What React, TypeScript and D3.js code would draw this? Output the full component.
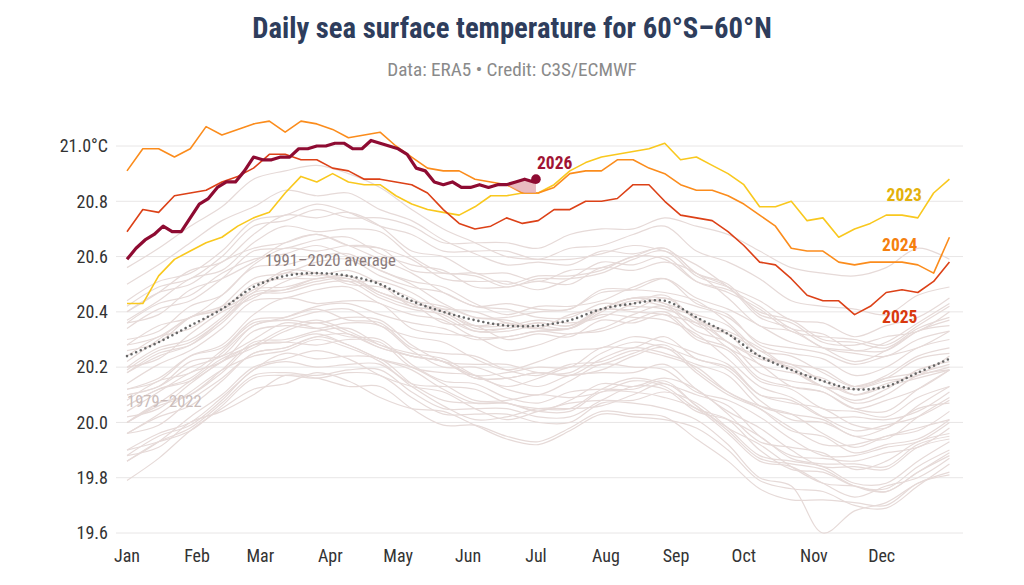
import React from 'react';
import * as d3 from 'd3';

const WIDTH = 1024;
const HEIGHT = 585;
const FONT = "'Roboto Condensed', Roboto, sans-serif";

// sample days (day of year)
const weekDays = d3.range(1, 366, 7);
const bgDays = d3.range(1, 366, 14);
const days2026 = [...d3.range(1, 182, 4), 182];

const months = ['Jan', 'Feb', 'Mar', 'Apr', 'May', 'Jun', 'Jul', 'Aug', 'Sep', 'Oct', 'Nov', 'Dec'];
const monthStarts = [1, 32, 60, 91, 121, 152, 182, 213, 244, 274, 305, 335];
const yTicks = [19.6, 19.8, 20.0, 20.2, 20.4, 20.6, 20.8, 21.0];

// 1991–2020 daily climatology, every 14 days
const avg9120 = [20.24, 20.29, 20.35, 20.41, 20.49, 20.53, 20.54, 20.53, 20.50, 20.44, 20.40, 20.37, 20.35, 20.35, 20.37, 20.41, 20.43, 20.44, 20.38, 20.32, 20.24, 20.19, 20.15, 20.12, 20.13, 20.18, 20.23];

// past years, every 14 days
const y1979 = [19.86, 19.93, 20.02, 20.10, 20.20, 20.23, 20.26, 20.23, 20.17, 20.13, 20.11, 20.05, 20.01, 20.04, 20.07, 20.08, 20.08, 20.11, 20.07, 19.98, 19.88, 19.86, 19.84, 19.78, 19.78, 19.86, 19.93];
const y1980 = [19.96, 19.99, 20.08, 20.16, 20.25, 20.27, 20.31, 20.28, 20.23, 20.20, 20.14, 20.08, 20.08, 20.10, 20.09, 20.11, 20.15, 20.13, 20.05, 20.01, 19.90, 19.83, 19.82, 19.77, 19.76, 19.84, 19.90];
const y1981 = [19.88, 19.95, 19.99, 20.08, 20.19, 20.22, 20.20, 20.21, 20.21, 20.13, 20.06, 20.01, 20.02, 20.05, 20.05, 20.06, 20.10, 20.14, 20.06, 19.97, 19.87, 19.85, 19.83, 19.77, 19.75, 19.82, 19.89];
const y1982 = [19.90, 19.93, 19.97, 20.06, 20.16, 20.17, 20.16, 20.18, 20.17, 20.09, 20.03, 20.03, 20.03, 20.00, 20.00, 20.07, 20.07, 20.05, 20.01, 19.92, 19.80, 19.77, 19.60, 19.68, 19.71, 19.78, 19.82];
const y1983 = [20.06, 20.12, 20.15, 20.22, 20.28, 20.29, 20.32, 20.28, 20.23, 20.19, 20.12, 20.07, 20.07, 20.04, 20.04, 20.11, 20.11, 20.09, 20.05, 19.96, 19.86, 19.84, 19.78, 19.73, 19.77, 19.80, 19.87];
const y1984 = [19.88, 19.91, 20.00, 20.04, 20.10, 20.17, 20.16, 20.13, 20.13, 20.05, 19.99, 19.99, 19.95, 19.93, 19.98, 20.04, 20.03, 20.02, 19.94, 19.86, 19.76, 19.72, 19.72, 19.71, 19.70, 19.78, 19.81];
const y1985 = [19.79, 19.87, 19.97, 20.05, 20.12, 20.14, 20.18, 20.15, 20.09, 20.05, 20.04, 19.99, 19.94, 19.92, 19.97, 20.03, 20.02, 20.01, 19.98, 19.90, 19.79, 19.76, 19.75, 19.70, 19.69, 19.77, 19.85];
const y1986 = [19.86, 19.93, 19.98, 20.07, 20.17, 20.18, 20.17, 20.19, 20.19, 20.11, 20.05, 20.05, 20.05, 20.02, 20.02, 20.08, 20.13, 20.12, 20.04, 20.01, 19.95, 19.87, 19.85, 19.85, 19.84, 19.92, 19.95];
const y1987 = [19.96, 20.02, 20.06, 20.15, 20.25, 20.27, 20.31, 20.32, 20.27, 20.24, 20.22, 20.17, 20.18, 20.20, 20.20, 20.27, 20.27, 20.31, 20.23, 20.20, 20.10, 20.08, 20.02, 20.02, 20.01, 20.04, 20.11];
const y1988 = [20.10, 20.13, 20.22, 20.24, 20.30, 20.36, 20.34, 20.31, 20.30, 20.21, 20.15, 20.14, 20.09, 20.07, 20.11, 20.12, 20.12, 20.15, 20.06, 19.98, 19.92, 19.84, 19.78, 19.77, 19.75, 19.82, 19.88];
const y1989 = [19.90, 19.96, 20.00, 20.09, 20.19, 20.25, 20.23, 20.24, 20.23, 20.14, 20.08, 20.07, 20.07, 20.04, 20.08, 20.14, 20.13, 20.16, 20.12, 20.03, 19.93, 19.91, 19.89, 19.83, 19.86, 19.93, 19.96];
const y1990 = [20.00, 20.07, 20.15, 20.23, 20.28, 20.34, 20.37, 20.33, 20.28, 20.25, 20.23, 20.17, 20.13, 20.16, 20.20, 20.21, 20.25, 20.28, 20.19, 20.11, 20.06, 20.03, 19.96, 19.91, 19.95, 19.98, 20.01];
const y1991 = [20.04, 20.11, 20.18, 20.22, 20.33, 20.35, 20.34, 20.36, 20.35, 20.26, 20.20, 20.20, 20.16, 20.13, 20.17, 20.18, 20.18, 20.21, 20.12, 20.04, 19.98, 19.90, 19.84, 19.84, 19.83, 19.91, 19.94];
const y1992 = [19.96, 20.03, 20.11, 20.19, 20.24, 20.26, 20.30, 20.27, 20.22, 20.14, 20.13, 20.12, 20.07, 20.05, 20.05, 20.12, 20.16, 20.14, 20.10, 20.06, 19.95, 19.88, 19.87, 19.86, 19.89, 19.91, 19.98];
const y1993 = [20.00, 20.07, 20.10, 20.18, 20.28, 20.29, 20.28, 20.30, 20.29, 20.20, 20.18, 20.17, 20.12, 20.10, 20.15, 20.21, 20.20, 20.19, 20.11, 20.08, 20.02, 19.94, 19.88, 19.88, 19.91, 19.93, 20.00];
const y1994 = [20.00, 20.06, 20.10, 20.19, 20.29, 20.30, 20.33, 20.34, 20.28, 20.24, 20.22, 20.16, 20.16, 20.18, 20.17, 20.23, 20.27, 20.25, 20.21, 20.17, 20.06, 20.03, 20.01, 19.95, 19.98, 20.05, 20.07];
const y1995 = [20.12, 20.16, 20.24, 20.27, 20.37, 20.38, 20.41, 20.37, 20.36, 20.27, 20.25, 20.24, 20.19, 20.17, 20.21, 20.22, 20.26, 20.24, 20.20, 20.11, 20.05, 19.97, 19.95, 19.89, 19.92, 19.94, 20.01];
const y1996 = [20.02, 20.05, 20.14, 20.22, 20.27, 20.33, 20.36, 20.32, 20.27, 20.24, 20.22, 20.16, 20.16, 20.18, 20.17, 20.19, 20.24, 20.27, 20.18, 20.10, 20.05, 19.98, 19.92, 19.92, 19.95, 19.97, 20.04];
const y1997 = [20.06, 20.12, 20.16, 20.25, 20.35, 20.38, 20.42, 20.43, 20.39, 20.36, 20.34, 20.30, 20.31, 20.33, 20.34, 20.41, 20.45, 20.45, 20.42, 20.38, 20.29, 20.27, 20.25, 20.21, 20.24, 20.27, 20.33];
const y1998 = [20.36, 20.43, 20.46, 20.54, 20.59, 20.61, 20.64, 20.60, 20.55, 20.50, 20.43, 20.38, 20.37, 20.34, 20.34, 20.39, 20.38, 20.37, 20.32, 20.23, 20.13, 20.09, 20.02, 19.97, 19.99, 20.02, 20.08];
const y1999 = [20.10, 20.13, 20.20, 20.24, 20.35, 20.37, 20.36, 20.38, 20.37, 20.28, 20.22, 20.21, 20.21, 20.18, 20.18, 20.25, 20.29, 20.27, 20.23, 20.19, 20.08, 20.01, 20.00, 19.95, 19.94, 20.02, 20.09];
const y2000 = [20.08, 20.15, 20.18, 20.26, 20.36, 20.37, 20.40, 20.41, 20.35, 20.31, 20.29, 20.23, 20.19, 20.22, 20.26, 20.27, 20.31, 20.29, 20.25, 20.21, 20.10, 20.07, 20.05, 19.99, 19.98, 20.06, 20.13];
const y2001 = [20.14, 20.21, 20.26, 20.34, 20.44, 20.45, 20.48, 20.49, 20.43, 20.39, 20.37, 20.31, 20.31, 20.33, 20.32, 20.34, 20.39, 20.42, 20.33, 20.29, 20.18, 20.15, 20.13, 20.07, 20.10, 20.17, 20.19];
const y2002 = [20.20, 20.27, 20.30, 20.38, 20.48, 20.49, 20.52, 20.53, 20.47, 20.43, 20.41, 20.35, 20.35, 20.37, 20.36, 20.38, 20.43, 20.46, 20.37, 20.33, 20.27, 20.19, 20.13, 20.13, 20.16, 20.18, 20.21];
const y2003 = [20.26, 20.29, 20.38, 20.42, 20.48, 20.55, 20.54, 20.51, 20.51, 20.47, 20.40, 20.35, 20.36, 20.34, 20.34, 20.41, 20.45, 20.43, 20.35, 20.32, 20.26, 20.19, 20.13, 20.08, 20.12, 20.19, 20.22];
const y2004 = [20.20, 20.23, 20.32, 20.40, 20.45, 20.51, 20.54, 20.50, 20.49, 20.45, 20.38, 20.33, 20.34, 20.36, 20.35, 20.41, 20.40, 20.39, 20.36, 20.32, 20.21, 20.18, 20.16, 20.10, 20.13, 20.16, 20.19];
const y2005 = [20.22, 20.30, 20.38, 20.41, 20.47, 20.54, 20.53, 20.55, 20.50, 20.42, 20.41, 20.40, 20.36, 20.34, 20.39, 20.41, 20.41, 20.45, 20.37, 20.29, 20.24, 20.21, 20.15, 20.10, 20.14, 20.17, 20.20];
const y2006 = [20.19, 20.26, 20.29, 20.37, 20.47, 20.48, 20.51, 20.52, 20.46, 20.42, 20.40, 20.34, 20.34, 20.36, 20.35, 20.41, 20.45, 20.43, 20.39, 20.35, 20.24, 20.21, 20.19, 20.13, 20.16, 20.23, 20.25];
const y2007 = [20.28, 20.31, 20.38, 20.41, 20.50, 20.52, 20.52, 20.53, 20.47, 20.43, 20.36, 20.35, 20.30, 20.32, 20.31, 20.37, 20.36, 20.39, 20.30, 20.26, 20.15, 20.12, 20.05, 20.04, 20.02, 20.09, 20.13];
const y2008 = [20.12, 20.15, 20.24, 20.28, 20.39, 20.45, 20.43, 20.44, 20.43, 20.34, 20.32, 20.31, 20.26, 20.28, 20.32, 20.33, 20.37, 20.40, 20.31, 20.27, 20.16, 20.13, 20.11, 20.05, 20.04, 20.12, 20.19];
const y2009 = [20.18, 20.24, 20.28, 20.37, 20.46, 20.48, 20.52, 20.52, 20.47, 20.44, 20.42, 20.38, 20.38, 20.40, 20.41, 20.47, 20.48, 20.52, 20.45, 20.41, 20.35, 20.29, 20.27, 20.26, 20.26, 20.33, 20.37];
const y2010 = [20.40, 20.47, 20.50, 20.58, 20.63, 20.65, 20.68, 20.64, 20.59, 20.54, 20.47, 20.42, 20.41, 20.38, 20.38, 20.43, 20.42, 20.41, 20.36, 20.27, 20.21, 20.13, 20.11, 20.05, 20.08, 20.12, 20.19];
const y2011 = [20.18, 20.25, 20.28, 20.36, 20.46, 20.47, 20.50, 20.51, 20.45, 20.41, 20.39, 20.33, 20.33, 20.35, 20.34, 20.40, 20.44, 20.42, 20.38, 20.29, 20.23, 20.20, 20.13, 20.12, 20.15, 20.17, 20.24];
const y2012 = [20.24, 20.31, 20.34, 20.42, 20.52, 20.54, 20.58, 20.59, 20.53, 20.49, 20.47, 20.42, 20.43, 20.41, 20.41, 20.48, 20.48, 20.47, 20.44, 20.36, 20.26, 20.24, 20.18, 20.13, 20.17, 20.24, 20.27];
const y2013 = [20.28, 20.35, 20.38, 20.46, 20.56, 20.57, 20.60, 20.61, 20.55, 20.51, 20.49, 20.43, 20.39, 20.42, 20.42, 20.44, 20.49, 20.52, 20.43, 20.39, 20.28, 20.25, 20.23, 20.17, 20.20, 20.27, 20.30];
const y2014 = [20.30, 20.33, 20.42, 20.46, 20.57, 20.63, 20.62, 20.64, 20.63, 20.55, 20.54, 20.53, 20.49, 20.52, 20.52, 20.54, 20.59, 20.62, 20.53, 20.49, 20.44, 20.37, 20.36, 20.31, 20.35, 20.38, 20.45];
const y2015 = [20.42, 20.49, 20.52, 20.60, 20.71, 20.73, 20.77, 20.74, 20.74, 20.71, 20.65, 20.65, 20.65, 20.63, 20.68, 20.70, 20.70, 20.74, 20.71, 20.68, 20.62, 20.56, 20.54, 20.53, 20.56, 20.63, 20.59];
const y2016 = [20.56, 20.63, 20.71, 20.78, 20.88, 20.91, 20.93, 20.90, 20.85, 20.77, 20.70, 20.65, 20.60, 20.59, 20.59, 20.61, 20.64, 20.62, 20.57, 20.49, 20.40, 20.37, 20.30, 20.29, 20.27, 20.34, 20.38];
const y2017 = [20.40, 20.47, 20.55, 20.58, 20.68, 20.75, 20.74, 20.76, 20.71, 20.62, 20.60, 20.54, 20.54, 20.51, 20.55, 20.56, 20.60, 20.63, 20.54, 20.50, 20.39, 20.36, 20.29, 20.28, 20.31, 20.33, 20.40];
const y2018 = [20.36, 20.39, 20.48, 20.52, 20.58, 20.65, 20.68, 20.64, 20.63, 20.59, 20.52, 20.51, 20.51, 20.48, 20.52, 20.58, 20.57, 20.60, 20.51, 20.47, 20.41, 20.33, 20.31, 20.30, 20.28, 20.35, 20.42];
const y2019 = [20.44, 20.51, 20.54, 20.62, 20.73, 20.75, 20.79, 20.76, 20.71, 20.68, 20.62, 20.62, 20.62, 20.59, 20.63, 20.64, 20.68, 20.71, 20.62, 20.58, 20.52, 20.44, 20.42, 20.41, 20.39, 20.46, 20.49];
const y2020 = [20.50, 20.57, 20.65, 20.73, 20.78, 20.84, 20.82, 20.83, 20.77, 20.73, 20.66, 20.61, 20.57, 20.58, 20.57, 20.62, 20.61, 20.63, 20.54, 20.49, 20.38, 20.34, 20.27, 20.25, 20.24, 20.30, 20.33];
const y2021 = [20.34, 20.41, 20.44, 20.52, 20.62, 20.63, 20.66, 20.67, 20.61, 20.57, 20.55, 20.49, 20.49, 20.51, 20.50, 20.56, 20.55, 20.58, 20.54, 20.45, 20.35, 20.33, 20.27, 20.22, 20.26, 20.33, 20.35];
const y2022 = [20.37, 20.44, 20.52, 20.55, 20.65, 20.71, 20.69, 20.70, 20.69, 20.60, 20.54, 20.54, 20.50, 20.53, 20.53, 20.55, 20.60, 20.59, 20.51, 20.48, 20.42, 20.34, 20.32, 20.26, 20.29, 20.36, 20.43];

const pastYears = [
  y1979, y1980, y1981, y1982, y1983, y1984, y1985, y1986, y1987, y1988, y1989,
  y1990, y1991, y1992, y1993, y1994, y1995, y1996, y1997, y1998, y1999,
  y2000, y2001, y2002, y2003, y2004, y2005, y2006, y2007, y2008, y2009,
  y2010, y2011, y2012, y2013, y2014, y2015, y2016, y2017, y2018, y2019,
  y2020, y2021, y2022,
];

// recent years, weekly
const sst2023 = [20.43, 20.43, 20.53, 20.59, 20.62, 20.65, 20.67, 20.71, 20.74, 20.76, 20.83, 20.89, 20.87, 20.90, 20.87, 20.86, 20.86, 20.82, 20.79, 20.77, 20.76, 20.75, 20.78, 20.82, 20.82, 20.83, 20.83, 20.86, 20.91, 20.94, 20.96, 20.97, 20.98, 20.99, 21.01, 20.95, 20.96, 20.93, 20.90, 20.86, 20.78, 20.78, 20.80, 20.73, 20.74, 20.67, 20.70, 20.72, 20.75, 20.75, 20.74, 20.83, 20.88];
const sst2024 = [20.91, 20.99, 20.99, 20.96, 20.99, 21.07, 21.04, 21.06, 21.08, 21.09, 21.05, 21.09, 21.08, 21.06, 21.03, 21.04, 21.05, 21.00, 20.96, 20.92, 20.91, 20.91, 20.88, 20.87, 20.86, 20.83, 20.83, 20.85, 20.90, 20.91, 20.91, 20.95, 20.95, 20.92, 20.90, 20.86, 20.84, 20.84, 20.82, 20.79, 20.75, 20.71, 20.63, 20.62, 20.62, 20.58, 20.57, 20.58, 20.58, 20.58, 20.57, 20.54, 20.67];
const sst2025 = [20.69, 20.77, 20.76, 20.82, 20.83, 20.84, 20.87, 20.89, 20.92, 20.97, 20.97, 20.95, 20.95, 20.92, 20.91, 20.88, 20.88, 20.87, 20.86, 20.83, 20.77, 20.72, 20.70, 20.71, 20.74, 20.72, 20.73, 20.77, 20.77, 20.80, 20.80, 20.81, 20.86, 20.86, 20.80, 20.75, 20.74, 20.73, 20.69, 20.64, 20.58, 20.57, 20.52, 20.46, 20.44, 20.44, 20.39, 20.42, 20.47, 20.48, 20.47, 20.51, 20.58];
// 2026 so far, every 4 days
const sst2026 = [20.59, 20.63, 20.66, 20.68, 20.71, 20.69, 20.69, 20.74, 20.79, 20.81, 20.85, 20.87, 20.87, 20.91, 20.96, 20.95, 20.95, 20.96, 20.96, 20.99, 20.99, 21.00, 21.00, 21.01, 21.01, 20.99, 20.99, 21.02, 21.01, 21.00, 20.99, 20.97, 20.92, 20.91, 20.87, 20.86, 20.87, 20.85, 20.85, 20.86, 20.85, 20.86, 20.86, 20.87, 20.88, 20.87, 20.88];

const x = d3.scaleLinear().domain([1, 371]).range([127, 963]);
const y = d3.scaleLinear().domain([19.6, 21.0]).range([533, 146]);

const bgLine = d3.line<number>()
  .x((_, i) => x(bgDays[i]))
  .y(d => y(d))
  .curve(d3.curveCatmullRom.alpha(0.5));

const weekLine = d3.line<number>()
  .x((_, i) => x(weekDays[i]))
  .y(d => y(d));

const line2026 = d3.line<number>()
  .x((_, i) => x(days2026[i]))
  .y(d => y(d));

// previous record on each 2026 day (weekly series read piecewise-linearly)
const prior = [sst2023, sst2024, sst2025].map(s => d3.scaleLinear().domain(weekDays).range(s));
const record = days2026.map(d => Math.max(...prior.map(p => p(d))));

const recordArea = d3.area<number>()
  .x((_, i) => x(days2026[i]))
  .y0((d, i) => y(Math.min(d, record[i])))
  .y1(d => y(d));

const highlights = [
  { data: sst2023, stroke: '#f9c81e' },
  { data: sst2024, stroke: '#fb8c1c' },
  { data: sst2025, stroke: '#dc4117' },
];

export default function App() {
  const last = sst2026.length - 1;
  const endX = x(days2026[last]);
  const endY = y(sst2026[last]);
  return (
    <svg
      width={WIDTH}
      height={HEIGHT}
      style={{ position: 'absolute', left: 0, top: 0, background: '#fff', fontFamily: FONT, fontStretch: 'condensed' }}
    >
      <text x={512} y={37.5} textAnchor="middle" fontSize={28.7} fontWeight={700} fill="#2e3d5c">
        Daily sea surface temperature for 60°S–60°N
      </text>
      <text x={512} y={76} textAnchor="middle" fontSize={19.2} fill="#8a8a8a">
        Data: ERA5 • Credit: C3S/ECMWF
      </text>

      {/* grid + y labels */}
      {yTicks.map(t => (
        <g key={t}>
          <line x1={116} x2={963} y1={y(t)} y2={y(t)} stroke="#e8e6e6" strokeWidth={1} />
          <text x={108} y={y(t)} dy="0.35em" textAnchor="end" fontSize={18} fill="#333">
            {t === 21 ? '21.0°C' : t.toFixed(1)}
          </text>
        </g>
      ))}

      {months.map((m, i) => (
        <text key={m} x={x(monthStarts[i])} y={562} textAnchor="middle" fontSize={18} fill="#333">
          {m}
        </text>
      ))}

      {/* 1979–2022 */}
      <g fill="none" stroke="#e6dad8" strokeWidth={1.2}>
        {pastYears.map((d, i) => (
          <path key={i} d={bgLine(d) || ''} />
        ))}
      </g>
      <text x={127} y={y(20.055)} fontSize={16.5} fill="#cbbdbb">1979–2022</text>

      {/* 1991–2020 average */}
      <path
        d={bgLine(avg9120) || ''}
        fill="none"
        stroke="#666"
        strokeWidth={2.6}
        strokeLinecap="round"
        strokeDasharray="0 5"
      />
      <text x={x(91)} y={y(20.565)} textAnchor="middle" fontSize={16.7} fill="#8a7b7b">1991–2020 average</text>

      {highlights.map((h, i) => (
        <path key={i} d={weekLine(h.data) || ''} fill="none" stroke={h.stroke} strokeWidth={1.6} strokeLinejoin="round" />
      ))}

      <path d={recordArea(sst2026) || ''} fill="#e3a9b0" fillOpacity={0.8} />
      <path d={line2026(sst2026) || ''} fill="none" stroke="#8e0b32" strokeWidth={3.2} strokeLinejoin="round" />
      <circle cx={endX} cy={endY} r={4.8} fill="#8e0b32" />

      <g fontSize={17.5} fontWeight={700}>
        <text x={endX + 1} y={endY - 10} fill="#a01434">2026</text>
        <text x={x(345)} y={y(20.80)} textAnchor="middle" fill="#e3b10a">2023</text>
        <text x={x(343)} y={y(20.62)} textAnchor="middle" fill="#f57f0e">2024</text>
        <text x={x(343)} y={y(20.36)} textAnchor="middle" fill="#d9380e">2025</text>
      </g>
    </svg>
  );
}
